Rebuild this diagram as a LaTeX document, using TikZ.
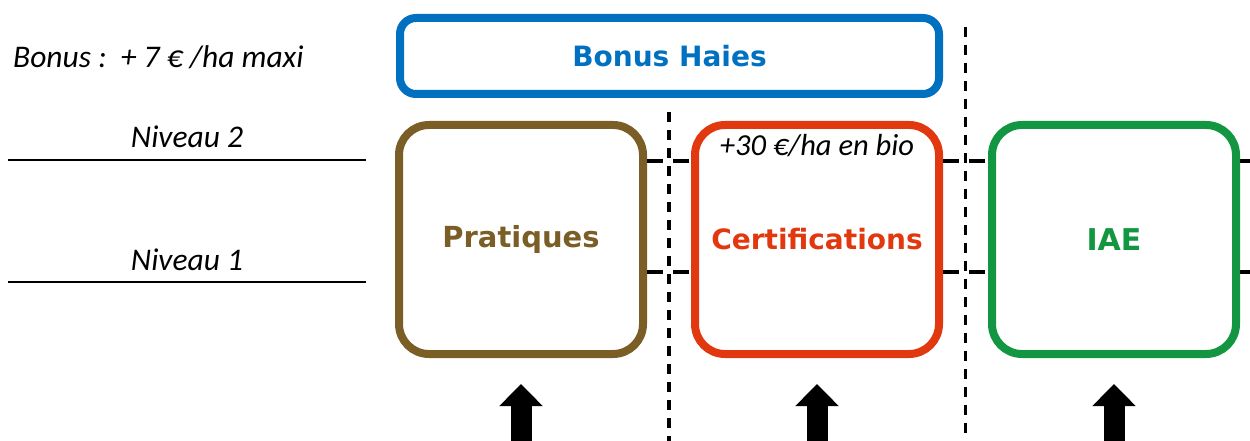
\documentclass[tikz,border=0pt]{standalone}
\usepackage{fontspec}
\setmainfont{Carlito}
\newfontfamily\verdanafont{DejaVu Sans}
\usetikzlibrary{calc,positioning,arrows.meta}

\definecolor{bleuhaie}{RGB}{0,112,192}
\definecolor{brunprat}{RGB}{122,94,38}
\definecolor{rougecert}{RGB}{226,56,16}
\definecolor{vertiae}{RGB}{18,150,66}

\newcommand\grasfont[1]{\verdanafont\bfseries\fontsize{#1}{#1}\selectfont}

\begin{document}
\begin{tikzpicture}[x=1pt,y=-1pt]

% one "pt" is one pixel of the original, y runs downwards
\tikzset{
  pilier/.style={draw=#1,text=#1,line width=8pt,rounded corners=30pt,
    minimum width=244pt,minimum height=229pt,inner sep=0pt},
  fleche/.style={line width=21pt,-{Triangle[width=42pt,length=22pt]}},
  sep/.style={dash pattern=on 10pt off 8pt,line width=3.2pt},
  marque/.style={dash pattern=on 16pt off 10pt,line width=3.2pt},
  etiquette/.style={font=\itshape\fontsize{31.5}{36}\selectfont,inner sep=0pt}
}

\useasboundingbox (0,0) rectangle (1250,441);
\clip (0,0) rectangle (1250,441);

% the three pillars
\node[pilier=brunprat,font=\grasfont{29}] (prat) at (521,239.5) {Pratiques};
\node[pilier=rougecert,right=44pt of prat,font=\grasfont{28}] (cert) {Certifications};
\node[pilier=vertiae,right=45pt of cert,font=\grasfont{30}] (iae) {IAE};
\node[draw=bleuhaie,text=bleuhaie,line width=8pt,rounded corners=16pt,
  minimum width=539pt,minimum height=76pt,inner sep=0pt,
  font=\grasfont{28}] (haies) at (669.5,56) {Bonus Haies};
\node[etiquette,anchor=base,font=\itshape\fontsize{30.5}{36}\selectfont]
  (bio) at ([yshift=-34pt]cert.north) {+30 €/ha en bio};

% labels on the left
\node[etiquette,anchor=base west] (bonus) at (13,68) {Bonus :\ \ + 7 € /ha maxi};
\node[etiquette,anchor=base] (niv2) at (187,148) {Niveau 2};
\node[etiquette,anchor=base] (niv1) at (187,270) {Niveau 1};
\coordinate (g2) at (8,160);   \coordinate (d2) at (366,160);
\coordinate (g1) at (8,282);   \coordinate (d1) at (366,282);
\draw[line width=2.5pt] (g2) -- (d2);
\draw[line width=2.5pt] (g1) -- (d1);

% dashed separators
\coordinate (haut1) at (0,112);
\coordinate (haut2) at (0,27);
\coordinate (bas) at (0,470);
\coordinate (s1) at ($(prat.east)!0.5!(cert.west)$);
\coordinate (s2) at ($(cert.east)!0.5!(iae.west)$);
\draw[sep] (s1 |- haut1) -- (s1 |- bas);
\draw[sep] (s2 |- haut2) -- (s2 |- bas);

% level marks between the pillars
\coordinate (nA) at (0,161);
\coordinate (nB) at (0,272);
\foreach \n in {nA,nB} {
  \draw[marque] (prat.east |- \n) -- (cert.west |- \n);
  \draw[marque] (cert.east |- \n) -- (iae.west |- \n);
  \draw[marque] (iae.east |- \n) -- ++(20,0);
}

% arrows under the pillars
\foreach \b in {prat,cert,iae} {
  \draw[fleche,shorten >=26pt] (\b.south |- bas) -- (\b.south);
}
\end{tikzpicture}
\end{document}
